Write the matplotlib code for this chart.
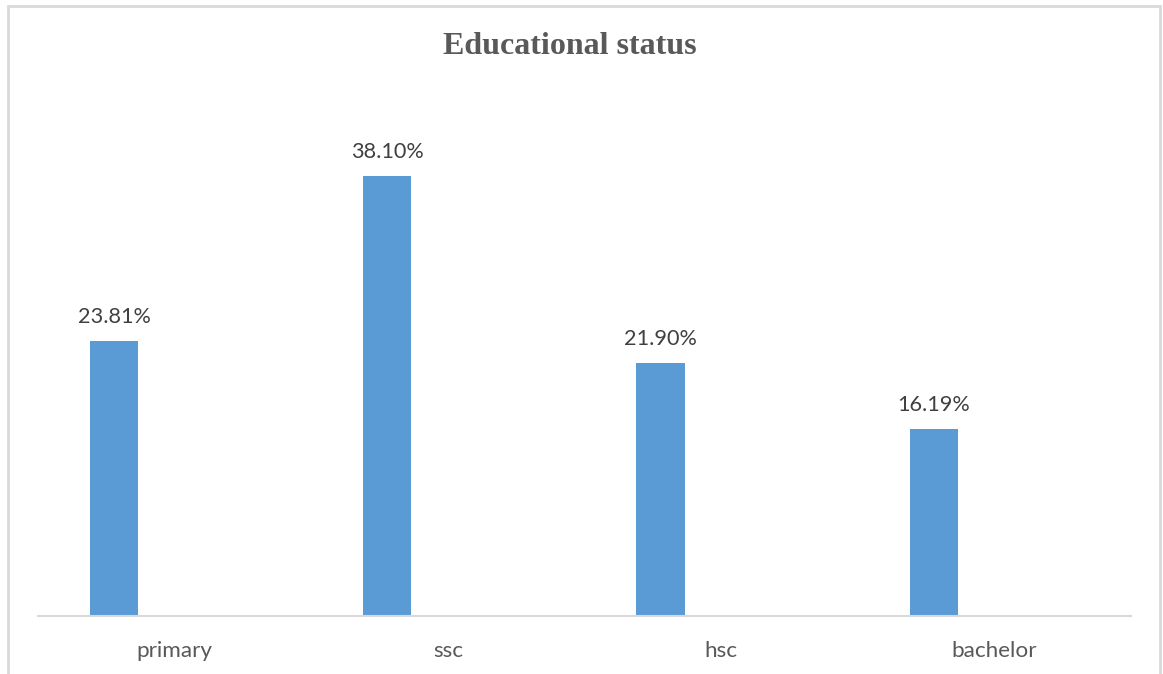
import matplotlib
matplotlib.use("Agg")
import matplotlib.pyplot as plt
from matplotlib.patches import Rectangle

categories = ["primary", "ssc", "hsc", "bachelor"]
values = [23.81, 38.10, 21.90, 16.19]
labels = ["23.81%", "38.10%", "21.90%", "16.19%"]

W, H = 1163, 674
fig = plt.figure(figsize=(W / 100, H / 100), dpi=100)
fig.patch.set_facecolor("white")

# outer chart frame
fig.patches.append(Rectangle((8 / W, -0.01), (1160 - 8) / W, (H - 6) / H + 0.01,
                             transform=fig.transFigure, fill=False,
                             edgecolor="#d9d9d9", linewidth=2.0))

ymax = 45
base_px, top_px = 616, 616 - 45 * 11.55
ax = fig.add_axes([38 / W, (H - base_px) / H, (1131 - 38) / W, (base_px - top_px) / H])

x = range(len(categories))
offset, width = -0.222, 0.176
bars = ax.bar([i + offset for i in x], values, width=width, color="#5B9BD5")

for b, lab in zip(bars, labels):
    ax.text(b.get_x() + b.get_width() / 2, b.get_height() + 1.2, lab,
            ha="center", va="bottom", fontsize=15.6, family="Lato", color="#404040")

ax.set_xlim(-0.5, len(categories) - 0.5)
ax.set_ylim(0, ymax)
ax.set_xticks(list(x))
ax.set_xticklabels(categories, fontsize=16.2, family="Lato", color="#595959")
ax.tick_params(axis="x", length=0, pad=18)
ax.set_yticks([])
for s in ["top", "right", "left"]:
    ax.spines[s].set_visible(False)
ax.spines["bottom"].set_color("#d9d9d9")
ax.spines["bottom"].set_linewidth(1.5)

fig.text(570 / W, 1 - 47 / H, "Educational status", ha="center", va="center",
         fontsize=23, fontweight="bold", family="Liberation Serif", color="#595959")

fig.savefig("out.png", dpi=100, facecolor="white")
